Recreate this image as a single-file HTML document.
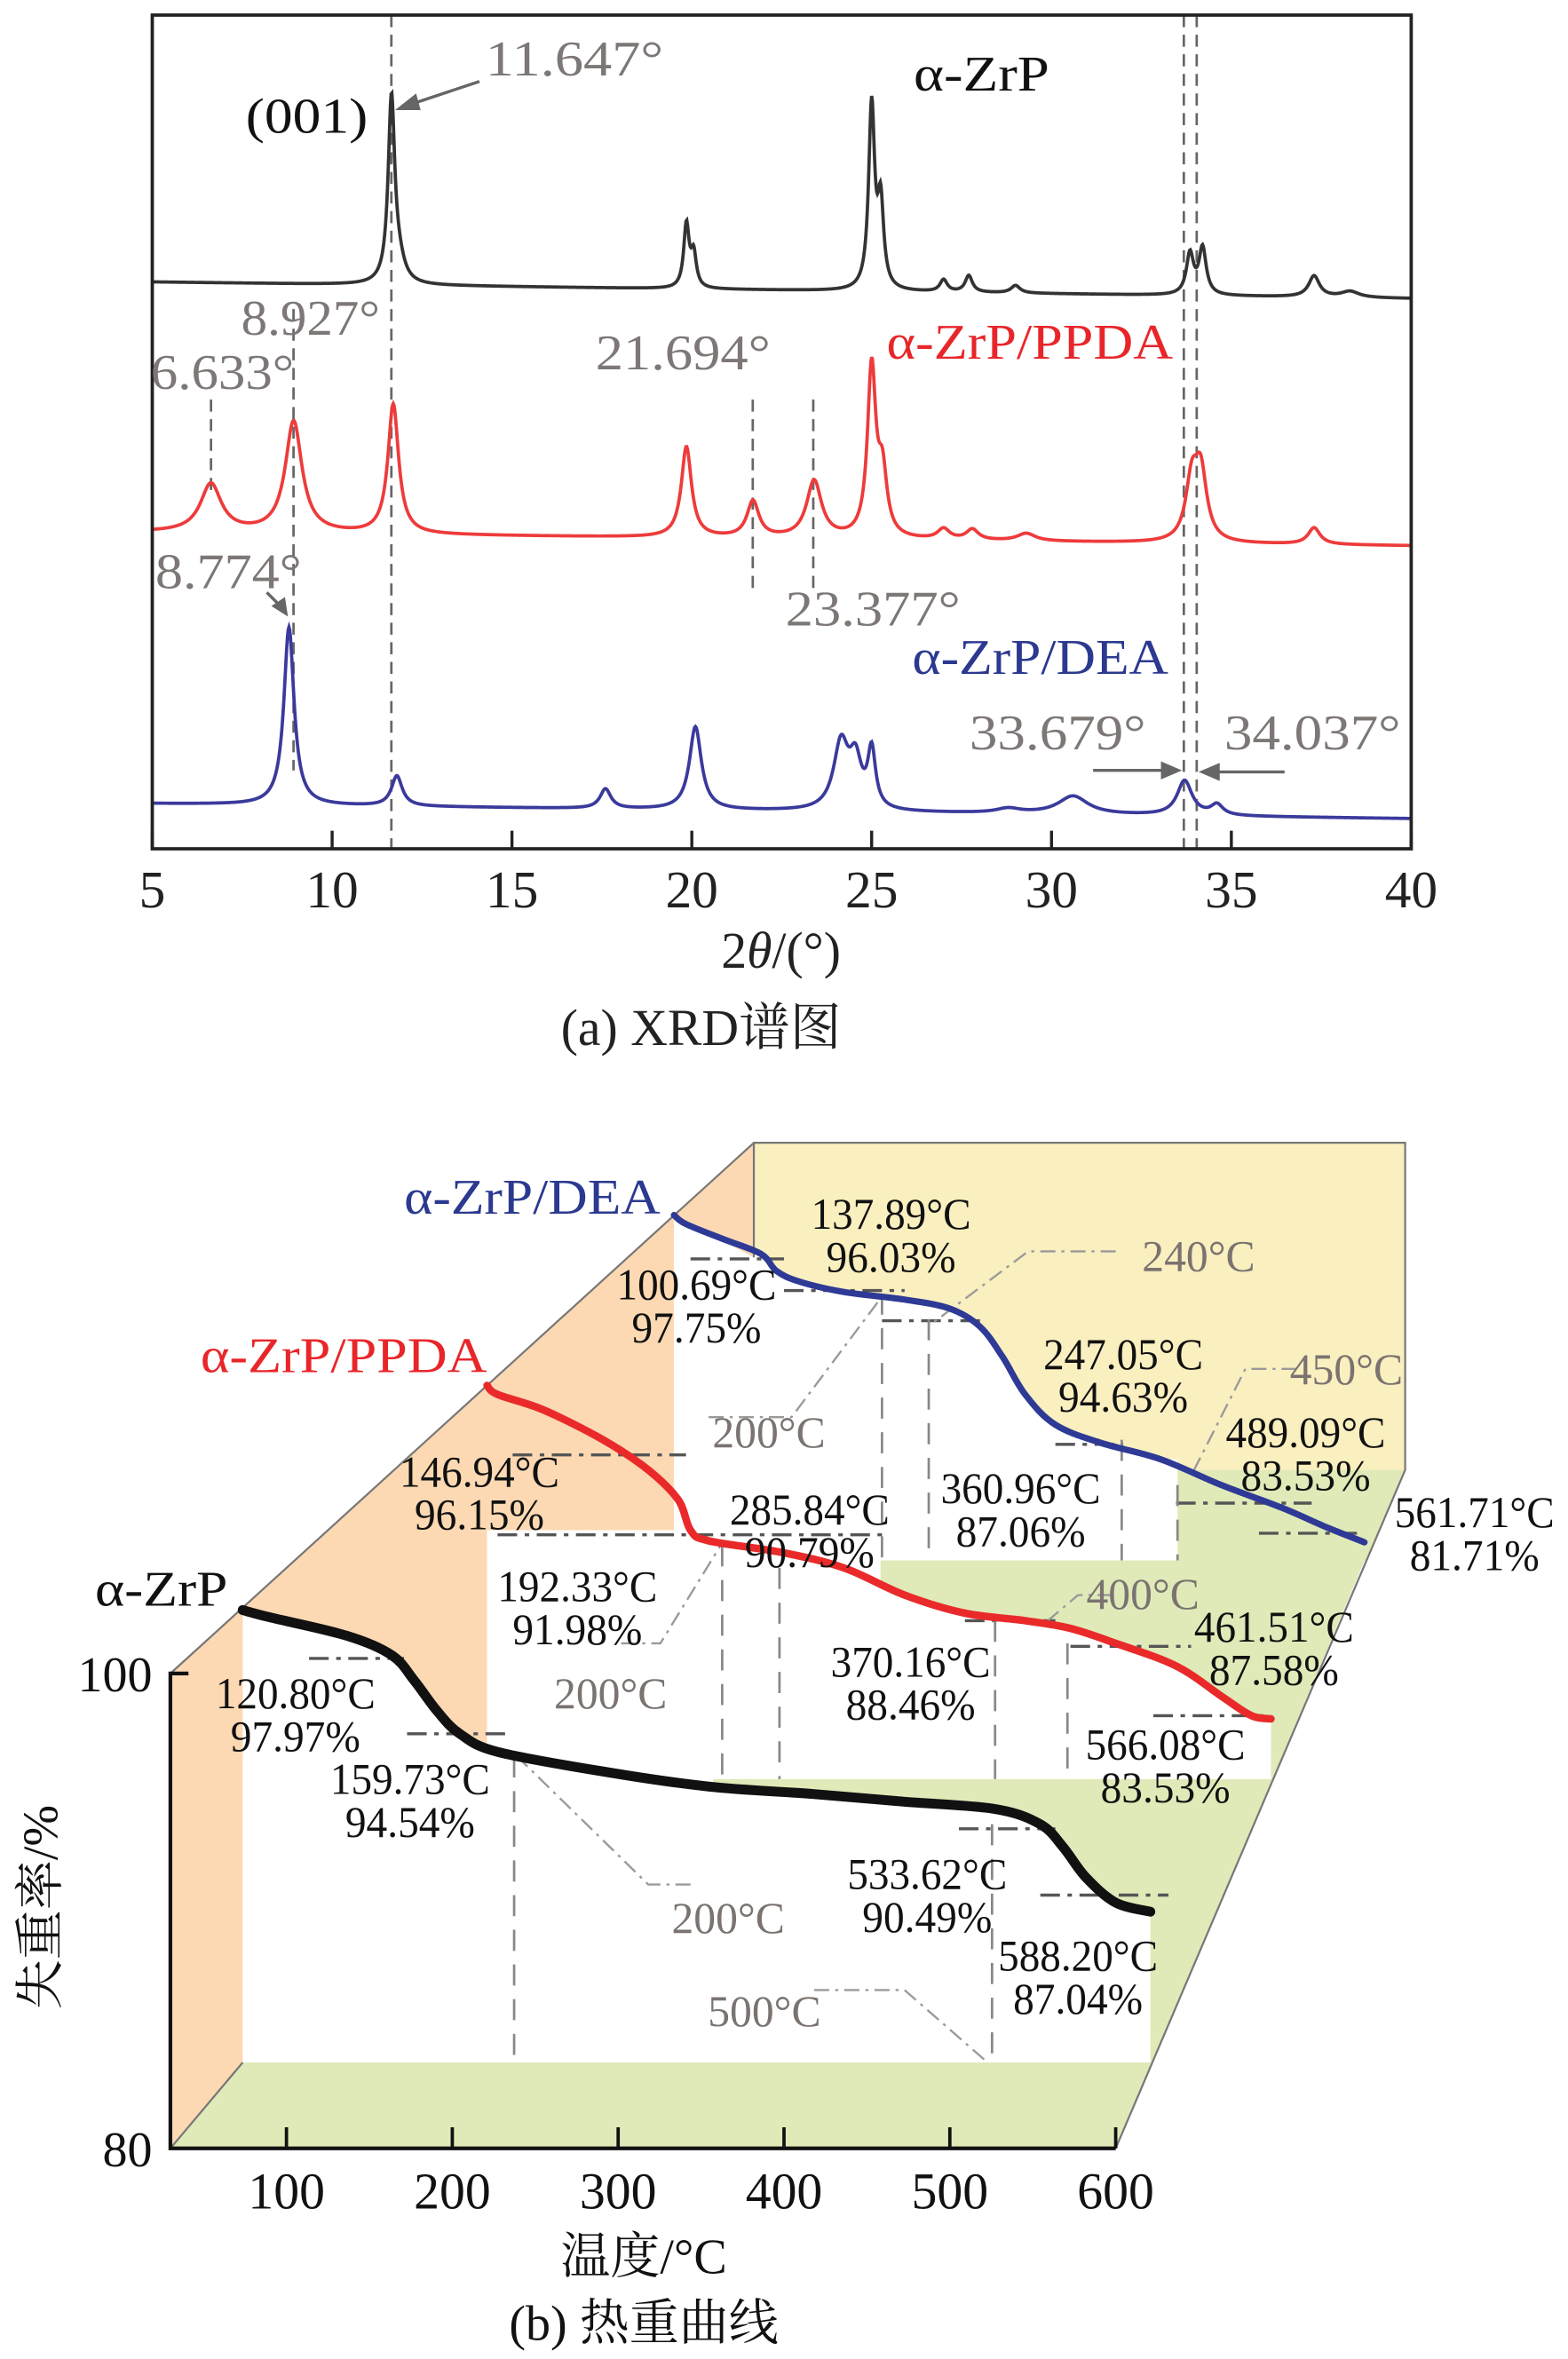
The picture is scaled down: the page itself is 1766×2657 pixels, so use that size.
<!DOCTYPE html>
<html><head><meta charset="utf-8">
<style>
html,body{margin:0;padding:0;background:#fff;}
svg{display:block;}
text{font-family:"Liberation Serif","Noto Serif CJK SC","Noto Sans CJK SC",serif;}
</style></head>
<body>
<svg id="fig" width="1766" height="2657" viewBox="0 0 1040 1564.7" xmlns="http://www.w3.org/2000/svg">
<rect x="0" y="0" width="1040" height="1565" fill="#fff"/>

<!-- ========== (a) XRD ========== -->
<g id="xrd">
  <g id="xrdGuides"></g>
  <g id="xrdCurves"></g>
  <rect x="101" y="10" width="835" height="553" fill="none" stroke="#222" stroke-width="2.2"/>
  <g id="xrdTicks"></g>
  <text x="518" y="642" font-size="34" text-anchor="middle" fill="#222">2<tspan font-style="italic">θ</tspan>/(°)</text>
  <text x="465" y="693" font-size="34" text-anchor="middle" fill="#222">(a) XRD谱图</text>

  <g fill="#7d7776" font-size="33">
    <text x="322" y="50" textLength="118" lengthAdjust="spacingAndGlyphs">11.647°</text>
    <text x="160" y="222" textLength="92" lengthAdjust="spacingAndGlyphs">8.927°</text>
    <text x="100" y="258" textLength="95" lengthAdjust="spacingAndGlyphs">6.633°</text>
    <text x="395" y="245" textLength="116" lengthAdjust="spacingAndGlyphs">21.694°</text>
    <text x="103" y="390" textLength="97" lengthAdjust="spacingAndGlyphs">8.774°</text>
    <text x="521" y="415" textLength="116" lengthAdjust="spacingAndGlyphs">23.377°</text>
    <text x="643" y="497" textLength="117" lengthAdjust="spacingAndGlyphs">33.679°</text>
    <text x="812" y="497" textLength="117" lengthAdjust="spacingAndGlyphs">34.037°</text>
  </g>
  <text x="163" y="88" font-size="33" fill="#111" textLength="81" lengthAdjust="spacingAndGlyphs">(001)</text>
  <text x="606" y="60" font-size="33" fill="#111" textLength="90" lengthAdjust="spacingAndGlyphs">α-ZrP</text>
  <text x="588" y="238" font-size="33" fill="#e8262a" textLength="190" lengthAdjust="spacingAndGlyphs">α-ZrP/PPDA</text>
  <text x="605" y="447" font-size="33" fill="#2b3990" textLength="170" lengthAdjust="spacingAndGlyphs">α-ZrP/DEA</text>
  <g stroke="#666" stroke-width="2" fill="#666">
    <line x1="318" y1="54" x2="270" y2="70"/>
    <polygon points="262,73 276,62 279,73" stroke="none"/>
    <line x1="177" y1="393" x2="186" y2="402"/>
    <polygon points="191,409 180,402 189,396" stroke="none"/>
    <line x1="725" y1="511" x2="772" y2="511"/>
    <polygon points="784,511 770,505 770,517" stroke="none"/>
    <line x1="852" y1="512" x2="806" y2="512"/>
    <polygon points="795,512 809,506 809,518" stroke="none"/>
  </g>
</g>

<!-- ========== (b) TGA ========== -->
<g id="tga">
  <rect x="500" y="758" width="432" height="217" fill="#faefbf"/>
  <polygon points="781,975 932,975 906,1035 781,1035" fill="#dfeab8"/>
  <polygon points="584,1033 906,1033 844,1180 584,1180" fill="#dfeab8"/>
  <polygon points="473,1180 844,1180 740,1425 113,1425 161,1368 473,1368" fill="#dfeab8"/>
  <polygon points="113,1110 323,919 323,1165 161,1165 161,1368 113,1425" fill="#fcd9b3"/>
  <g id="planes"></g>
  <polygon points="323,919 447,806 447,1015 323,1015" fill="#fcd9b3"/>
  <polygon points="447,806 500,758 500,834" fill="#fcd9b3"/>
  <g stroke="#777" stroke-width="1.3" fill="none">
    <line x1="113" y1="1110" x2="500" y2="758"/>
    <polyline points="500,834 500,758 932,758 932,975 740,1425"/>
    <line x1="113" y1="1425" x2="161" y2="1368"/>
  </g>
  <g id="guides"></g>
  <g id="tgaCurves"></g>

  <g stroke="#111" stroke-width="2.5" fill="none">
    <polyline points="125,1110 113,1110 113,1425 740,1425"/>
  </g>
  <g id="tgaTicks"></g>
  <text x="101" y="1122" font-size="33" text-anchor="end" fill="#111">100</text>
  <text x="101" y="1437" font-size="33" text-anchor="end" fill="#111">80</text>
  <text x="427" y="1508" font-size="33" text-anchor="middle" fill="#111">温度/°C</text>
  <text transform="translate(38,1265) rotate(-90)" font-size="33" text-anchor="middle" fill="#111">失重率/%</text>
  <text x="427" y="1552" font-size="33" text-anchor="middle" fill="#111">(b) 热重曲线</text>
  <text x="268" y="805" font-size="33" fill="#2b3990" textLength="170" lengthAdjust="spacingAndGlyphs">α-ZrP/DEA</text>
  <text x="133" y="910" font-size="33" fill="#e8262a" textLength="190" lengthAdjust="spacingAndGlyphs">α-ZrP/PPDA</text>
  <text x="63" y="1065" font-size="33" fill="#111" textLength="88" lengthAdjust="spacingAndGlyphs">α-ZrP</text>
  <g id="tgaLabels"></g>
</g>

<script>
const NS = 'http://www.w3.org/2000/svg';
function el(tag, parent) { const e = document.createElementNS(NS, tag); parent.appendChild(e); return e; }

/* ---------- XRD data ---------- */
const xrdTicks = [5, 10, 15, 20, 25, 30, 35, 40];
const zrpPeakPos    = [11.65, 11.85, 19.85, 20.05, 25.0, 25.25, 27.0, 27.7, 29.0, 33.85, 34.2, 37.3, 38.3];
const zrpPeakHeight = [122, 12, 42, 22, 122, 55, 8, 11, 5, 27, 31, 14, 4];
const zrpPeakWidth  = [0.11, 0.2, 0.09, 0.09, 0.1, 0.1, 0.12, 0.12, 0.15, 0.12, 0.12, 0.18, 0.3];
const zrpBackground = [376, 365];
const ppdaPeakPos    = [6.63, 8.93, 11.7, 19.85, 21.7, 23.4, 25.0, 25.3, 27.0, 27.8, 29.3, 33.9, 34.15, 37.3];
const ppdaPeakHeight = [32, 74, 86, 60, 24, 38, 112, 40, 7, 7, 5, 38, 44, 11];
const ppdaPeakWidth  = [0.35, 0.28, 0.18, 0.17, 0.2, 0.25, 0.14, 0.15, 0.2, 0.2, 0.3, 0.2, 0.2, 0.2];
const ppdaBackground = [210, 201];
const deaPeakPos    = [8.8, 11.8, 17.6, 20.1, 24.15, 24.55, 25.0, 28.8, 30.6, 33.7, 34.6];
const deaPeakHeight = [118, 20, 13, 55, 44, 30, 38, 3, 12, 23, 7];
const deaPeakWidth  = [0.17, 0.18, 0.18, 0.2, 0.25, 0.2, 0.13, 0.4, 0.5, 0.25, 0.2];
const deaBackground = [30, 20];

function xrdX(t) { return 101 + (t - 5) * (835 / 35); }
function xrdY(i) { return 563 - i; }
function intensity(t, pos, h, w, bg) {
  let v = bg[0] + (bg[1] - bg[0]) * (t - 5) / 35;
  for (let k = 0; k < pos.length; k++) { const d = (t - pos[k]) / w[k]; v += h[k] / (1 + d * d); }
  return v;
}
const xrdCurves = document.getElementById('xrdCurves');
[[zrpPeakPos, zrpPeakHeight, zrpPeakWidth, zrpBackground, '#333', 'xrd-curve-zrp'],
 [ppdaPeakPos, ppdaPeakHeight, ppdaPeakWidth, ppdaBackground, '#ee3b3b', 'xrd-curve-ppda'],
 [deaPeakPos, deaPeakHeight, deaPeakWidth, deaBackground, '#3a3a9c', 'xrd-curve-dea']].forEach(s => {
  let d = '';
  for (let t = 5; t <= 40.0001; t += 0.02) {
    d += (d ? 'L' : 'M') + xrdX(t).toFixed(2) + ',' + xrdY(intensity(t, s[0], s[1], s[2], s[3])).toFixed(2);
  }
  const p = el('path', xrdCurves);
  p.setAttribute('d', d); p.setAttribute('fill', 'none'); p.setAttribute('stroke', s[4]); p.setAttribute('stroke-width', '2.2');
  
  
});
const xrdTickG = document.getElementById('xrdTicks');
xrdTicks.forEach(t => {
  const l = el('line', xrdTickG);
  l.setAttribute('x1', xrdX(t)); l.setAttribute('x2', xrdX(t)); l.setAttribute('y1', 563); l.setAttribute('y2', 551);
  l.setAttribute('stroke', '#222'); l.setAttribute('stroke-width', '2');
  
  
  const tx = el('text', xrdTickG);
  tx.setAttribute('x', xrdX(t)); tx.setAttribute('y', 602); tx.setAttribute('font-size', '35'); tx.setAttribute('text-anchor', 'middle'); tx.setAttribute('fill', '#222');
  tx.textContent = t;
  
  
});
const xrdGuideG = document.getElementById('xrdGuides');
const xrdGuideAngles = [11.647, 33.679, 34.037, 6.633, 8.927, 21.694, 23.377];
const xrdGuideTop = [10, 10, 10, 265, 205, 265, 265];
const xrdGuideBottom = [563, 563, 563, 330, 511, 390, 395];
xrdGuideAngles.forEach((a, k) => {
  const l = el('line', xrdGuideG);
  l.setAttribute('x1', xrdX(a)); l.setAttribute('x2', xrdX(a)); l.setAttribute('y1', xrdGuideTop[k]); l.setAttribute('y2', xrdGuideBottom[k]);
  l.setAttribute('stroke', '#666'); l.setAttribute('stroke-width', '1.6'); l.setAttribute('stroke-dasharray', '8 5');
  
  
});

/* ---------- TGA data ---------- */
const tgaTicks = [100, 200, 300, 400, 500, 600];
const zrpTemp   = [73.6, 90.9, 136.4, 163.6, 177.3, 190.9, 204.5, 227.3, 290.9, 354.5, 418.2, 472.7, 527.3, 554.5, 568.2, 581.8, 600, 620.9];
const zrpWeight = [102.67, 102.35, 101.59, 100.76, 99.68, 98.41, 97.46, 96.70, 95.87, 95.24, 94.92, 94.60, 94.29, 93.65, 92.70, 91.43, 90.35, 89.97];
const ppdaTemp   = [73.2, 80.5, 112.1, 154.2, 185.8, 206.8, 215.3, 227.9, 280.5, 322.6, 364.7, 406.8, 448.9, 480.5, 512.1, 554.2, 585.8, 606.8, 620.5];
const ppdaWeight = [102.67, 102.29, 101.65, 100.38, 99.11, 97.84, 96.57, 96.13, 95.62, 94.98, 93.84, 93.08, 92.76, 92.44, 91.81, 90.86, 89.59, 88.76, 88.63];
const deaTemp   = [73.6, 83.1, 113.0, 142.9, 154.8, 172.7, 208.6, 256.4, 292.2, 316.1, 334.0, 351.9, 375.8, 411.7, 459.5, 507.3, 555.1, 590.9, 620.8];
const deaWeight = [102.67, 102.29, 101.65, 101.02, 100.32, 99.87, 99.43, 99.11, 98.73, 97.97, 96.70, 95.11, 93.84, 93.08, 92.38, 91.30, 90.35, 89.52, 88.89];

const layers = {
  zrp:  { x0: 157, kx: 1.1,   y100: 1110, bottom: 1368, xl: 161, xr: 763 },
  ppda: { x0: 320, kx: 0.95,  y100: 961,  bottom: 1180, xl: 323, xr: 843 },
  dea:  { x0: 444, kx: 0.837, y100: 848,  bottom: 1035, xl: 447, xr: 781 }
};
function lx(L, t) { return L.x0 + (t - 70) * L.kx; }
function ly(L, w) { return L.y100 - (w - 100) * 15.75; }
function smoothPath(pts) {
  let d = 'M' + pts[0][0] + ',' + pts[0][1];
  for (let i = 0; i < pts.length - 1; i++) {
    const p0 = pts[Math.max(0, i - 1)], p1 = pts[i], p2 = pts[i + 1], p3 = pts[Math.min(pts.length - 1, i + 2)];
    const c1 = [p1[0] + (p2[0] - p0[0]) / 6, p1[1] + (p2[1] - p0[1]) / 6];
    const c2 = [p2[0] - (p3[0] - p1[0]) / 6, p2[1] - (p3[1] - p1[1]) / 6];
    d += 'C' + c1[0].toFixed(1) + ',' + c1[1].toFixed(1) + ' ' + c2[0].toFixed(1) + ',' + c2[1].toFixed(1) + ' ' + p2[0].toFixed(1) + ',' + p2[1].toFixed(1);
  }
  return d;
}
const planesG = document.getElementById('planes');
const tgaCurvesG = document.getElementById('tgaCurves');
const series = [
  ['dea', deaTemp, deaWeight, '#2e3a95', 4.2, 'tga-curve-dea', 'plane-dea'],
  ['ppda', ppdaTemp, ppdaWeight, '#ea2a2a', 5, 'tga-curve-ppda', 'plane-ppda'],
  ['zrp', zrpTemp, zrpWeight, '#111', 6.5, 'tga-curve-zrp', 'plane-zrp']
];
series.forEach(s => {
  const L = layers[s[0]];
  const pts = s[1].map((t, i) => [lx(L, t), ly(L, s[2][i])]);
  const inPts = pts.filter(p => p[0] <= L.xr);
  let poly = inPts.map(p => p[0].toFixed(1) + ',' + p[1].toFixed(1)).join(' ');
  const last = inPts[inPts.length - 1];
  poly += ' ' + L.xr + ',' + last[1].toFixed(1) + ' ' + L.xr + ',' + L.bottom + ' ' + L.xl + ',' + L.bottom;
  const pl = el('polygon', planesG);
  pl.setAttribute('points', poly); pl.setAttribute('fill', '#fff');
  
  
  const p = el('path', tgaCurvesG);
  p.setAttribute('d', smoothPath(pts)); p.setAttribute('fill', 'none'); p.setAttribute('stroke', s[3]);
  p.setAttribute('stroke-width', s[4]); p.setAttribute('stroke-linecap', 'round'); p.setAttribute('stroke-linejoin', 'round');
  
  
});
const tgaTickG = document.getElementById('tgaTicks');
tgaTicks.forEach(t => {
  const x = lx(layers.zrp, t);
  const l = el('line', tgaTickG);
  l.setAttribute('x1', x); l.setAttribute('x2', x); l.setAttribute('y1', 1425); l.setAttribute('y2', 1411);
  l.setAttribute('stroke', '#111'); l.setAttribute('stroke-width', '2.2');
  
  
  const tx = el('text', tgaTickG);
  tx.setAttribute('x', x); tx.setAttribute('y', 1465); tx.setAttribute('font-size', '34'); tx.setAttribute('text-anchor', 'middle'); tx.setAttribute('fill', '#111');
  tx.textContent = t;
  
  
});

const guidesG = document.getElementById('guides');
const dashDot = [[205,1100,268],[270,1150,335],[636,1213,700],[690,1257,775],
  [340,965,455],[330,1018,585],[640,1075,700],[710,1092,790],[765,1138,840],
  [458,835,520],[520,856,600],[585,876,650],[700,958,745],[780,997,870],[835,1017,900]];
dashDot.forEach(a => {
  const l = el('line', guidesG);
  l.setAttribute('x1', a[0]); l.setAttribute('x2', a[2]); l.setAttribute('y1', a[1]); l.setAttribute('y2', a[1]);
  l.setAttribute('stroke', '#555'); l.setAttribute('stroke-width', '2'); l.setAttribute('stroke-dasharray', '13 5 3 5');
  
  
});
const vDash = [[341,1165,1370],[658,1210,1370],[479,1025,1180],[517,1040,1180],[660,1075,1180],[708,1090,1180],[585,858,1035],[616,875,1035],[744,955,1035],[781,985,1035]];
vDash.forEach(a => {
  const l = el('line', guidesG);
  l.setAttribute('x1', a[0]); l.setAttribute('x2', a[0]); l.setAttribute('y1', a[1]); l.setAttribute('y2', a[2]);
  l.setAttribute('stroke', '#888'); l.setAttribute('stroke-width', '1.6'); l.setAttribute('stroke-dasharray', '14 9');
  
  
});
const leaders = ['470,940 525,940 585,860', '740,830 682,830 618,878', '860,908 826,908 792,975',
  '412,1090 438,1090 478,1025', '738,1058 715,1058 695,1075', '458,1250 430,1250 344,1166', '540,1320 600,1320 655,1368'];
leaders.forEach(pts => {
  const l = el('polyline', guidesG);
  l.setAttribute('points', pts); l.setAttribute('fill', 'none');
  l.setAttribute('stroke', '#9a9a9a'); l.setAttribute('stroke-width', '1.4'); l.setAttribute('stroke-dasharray', '10 4 2 4');
  
  
});

const labelTexts = [['120.80°C','97.97%'],['159.73°C','94.54%'],['533.62°C','90.49%'],['588.20°C','87.04%'],
  ['146.94°C','96.15%'],['192.33°C','91.98%'],['285.84°C','90.79%'],['370.16°C','88.46%'],['461.51°C','87.58%'],['566.08°C','83.53%'],
  ['100.69°C','97.75%'],['137.89°C','96.03%'],['247.05°C','94.63%'],['360.96°C','87.06%'],['489.09°C','83.53%'],['561.71°C','81.71%']];
const labelCx = [196,272,615,715,318,383,537,604,845,773,462,591,745,677,866,978];
const labelY  = [1133,1190,1253,1307,986,1062,1011,1112,1089,1167,862,815,908,997,960,1013];
const labG = document.getElementById('tgaLabels');
labelTexts.forEach((lt, i) => {
  [0, 1].forEach(j => {
    const t = el('text', labG);
    t.setAttribute('x', labelCx[i]); t.setAttribute('y', labelY[i] + j * 28.5);
    t.setAttribute('font-size', '29'); t.setAttribute('text-anchor', 'middle'); t.setAttribute('fill', '#111');
    t.setAttribute('textLength', j === 0 ? 106 : 86); t.setAttribute('lengthAdjust', 'spacingAndGlyphs');
    t.textContent = lt[j];
    
    
  });
});
const grayLabels = ['200°C','240°C','450°C','200°C','400°C','200°C','500°C'];
const grayX = [510,795,893,405,758,483,507];
const grayY = [960,843,918,1133,1067,1282,1344];
grayLabels.forEach((g, i) => {
  const t = el('text', labG);
  t.setAttribute('x', grayX[i]); t.setAttribute('y', grayY[i]);
  t.setAttribute('font-size', '29'); t.setAttribute('text-anchor', 'middle'); t.setAttribute('fill', '#7a7370');
  t.setAttribute('textLength', 75); t.setAttribute('lengthAdjust', 'spacingAndGlyphs');
  t.textContent = g;
  
  
});
</script>
</svg>
</body></html>
